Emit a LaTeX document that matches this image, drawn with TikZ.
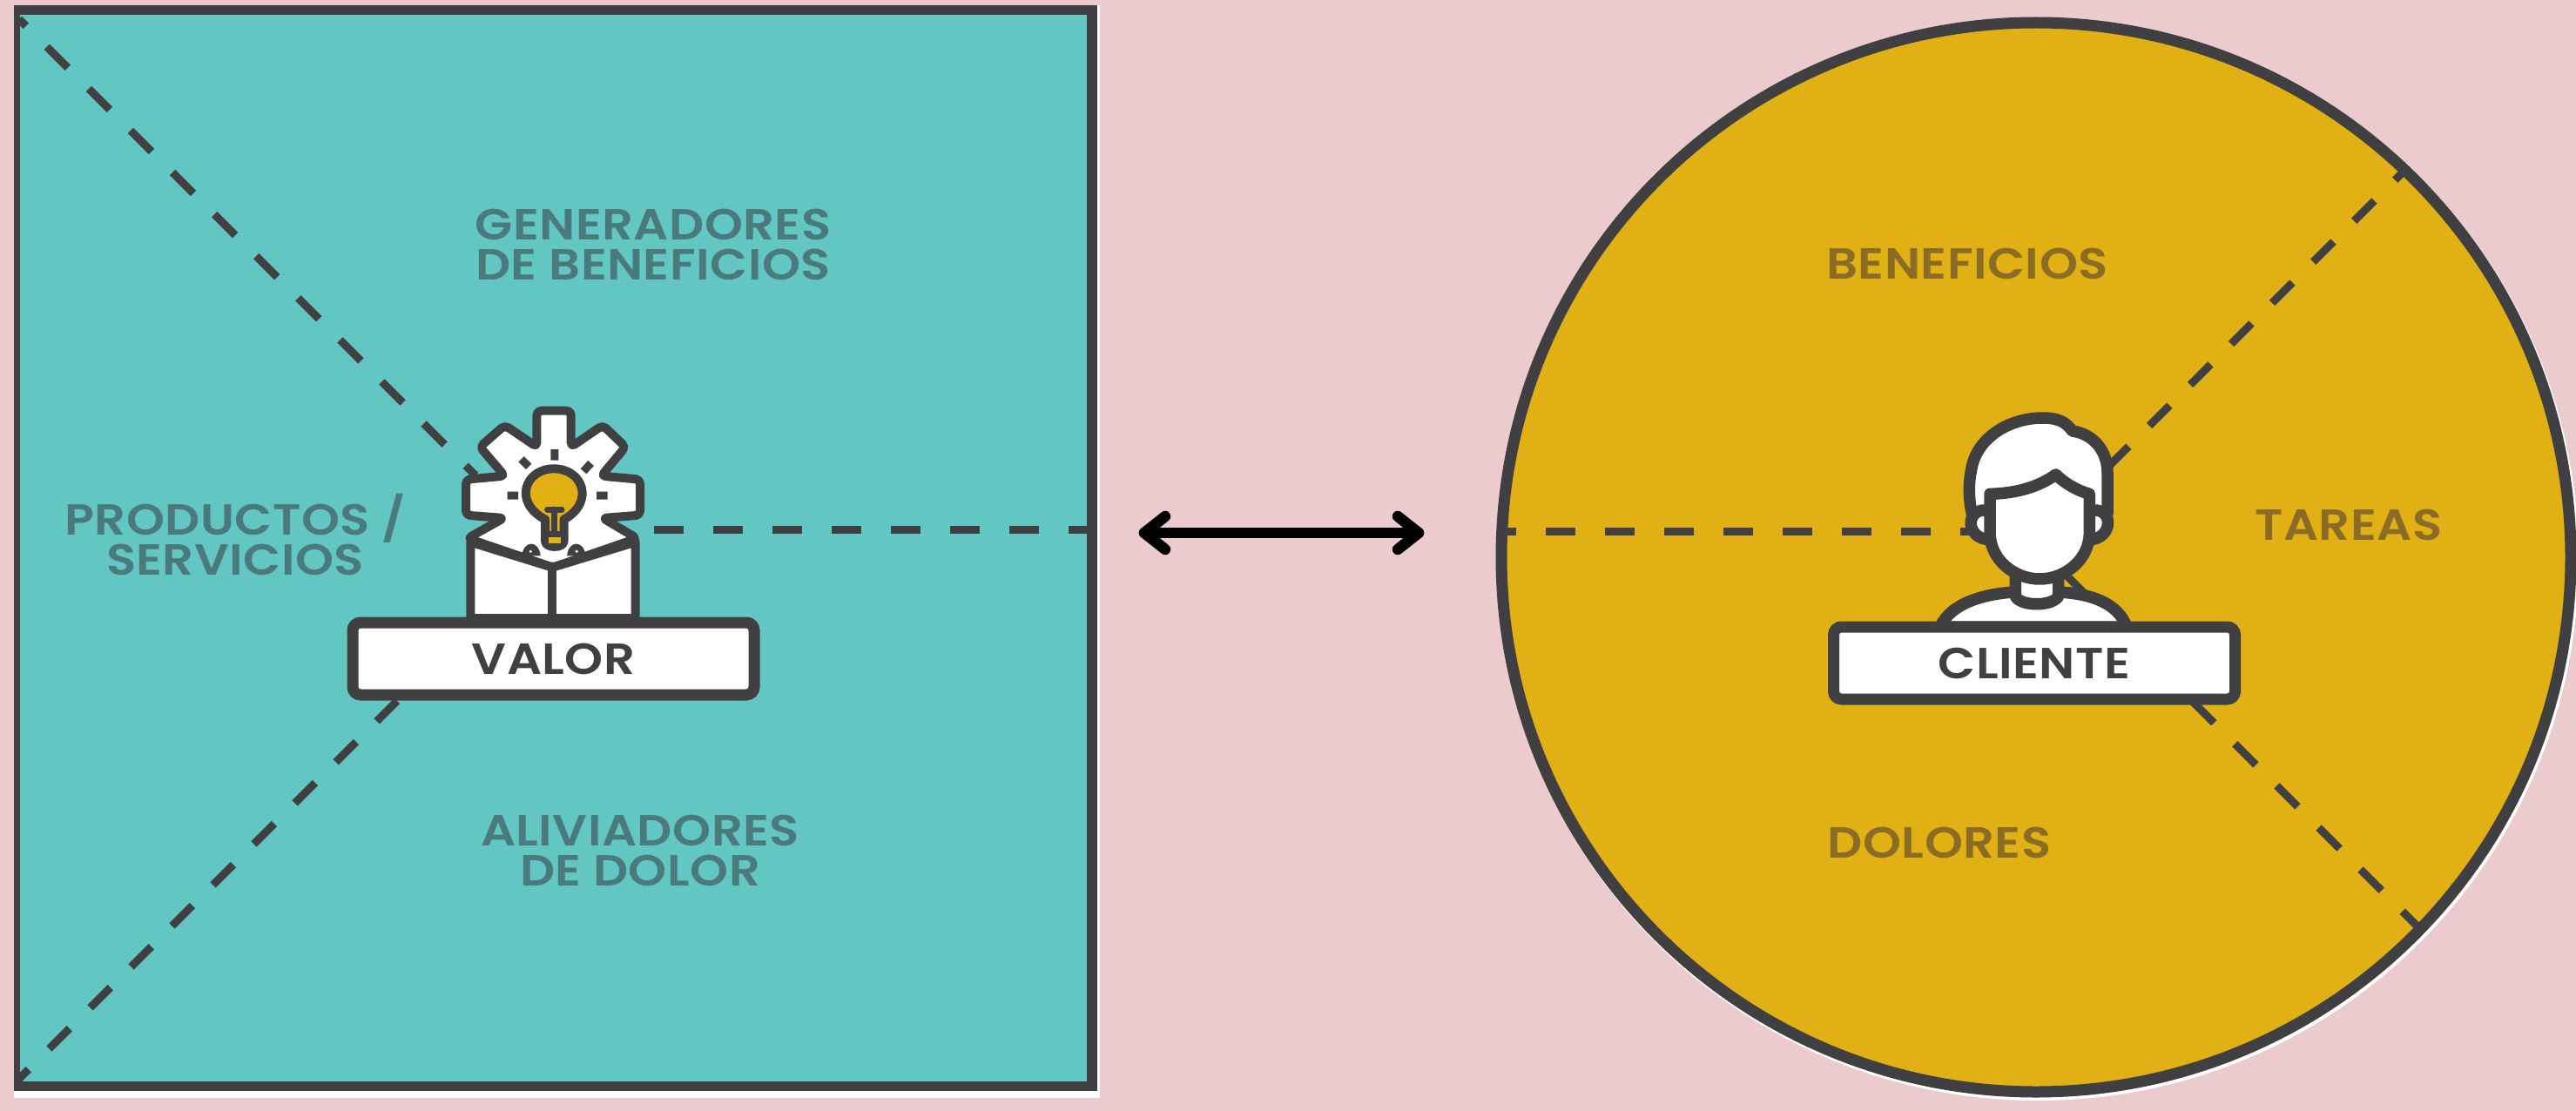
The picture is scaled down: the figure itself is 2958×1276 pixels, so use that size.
\documentclass[tikz,border=0pt]{standalone}
\usepackage{fontspec}
\newfontfamily\lab{Poppins SemiBold}[FakeStretch=1.12,LetterSpace=1]
\definecolor{bgc}{HTML}{ECCBCE}
\definecolor{teal}{HTML}{62C7C2}
\definecolor{gold}{HTML}{E0B014}
\definecolor{ink}{HTML}{404042}
\definecolor{tealtxt}{HTML}{4B7A7D}
\definecolor{goldtxt}{HTML}{8B6C24}
\tikzset{
  tealLabel/.style={text=tealtxt,font=\lab\fontsize{50}{46}\selectfont,align=center,inner sep=0pt,text depth=0pt},
  goldLabel/.style={text=goldtxt,font=\lab\fontsize{50}{46}\selectfont,inner sep=0pt},
  divider/.style={draw=ink,line width=9pt,dash pattern=on 34pt off 34pt},
  tightdivider/.style={draw=ink,line width=9pt,dash pattern=on 33pt off 33.5pt},
  namebox/.style={draw=ink,fill=white,line width=13pt,rounded corners=9pt,minimum width=461pt,minimum height=83pt,inner sep=0pt,text=ink,font=\lab\fontsize{50}{46}\selectfont},
  iconline/.style={draw=ink,line width=10pt,line join=round,line cap=round},
  headline/.style={draw=ink,line width=13.5pt,line join=round,line cap=round},
  bothways/.style={draw=black,line width=12.5pt,line cap=round,line join=round}
}
\begin{document}
\begin{tikzpicture}[x=1pt,y=-1pt]
\useasboundingbox (0,0) rectangle (2958,1276);
\fill[bgc] (0,0) rectangle (2958,1276);

% square panel
\fill[white] (16,6) rectangle (1263,1261);
\node[fill=ink,minimum width=1244pt,minimum height=1247pt,inner sep=0pt,outer sep=0pt,anchor=north west] (panelframe) at (16,6) {};
\node[fill=teal,minimum width=1225pt,minimum height=1225pt,inner sep=0pt,outer sep=0pt,anchor=north west] (panel) at (23,17) {};
% circle panel
\fill[white] (2340,643) circle (621);
\node[circle,draw=ink,fill=gold,line width=13pt,minimum size=1228pt,inner sep=0pt] (disc) at (2338,640) {};

% divider end points
\coordinate (tl) at (22,22);
\coordinate (tlc) at (546,546);
\coordinate (bl) at (20,1241);
\coordinate (blc) at (456,805);
\coordinate (rc) at (683,608);
\coordinate (re) at (1248,608);
\coordinate (le) at (1725,610);
\coordinate (lc) at (2285,610);
\coordinate (ur) at (2760,197);
\coordinate (urc) at (2421,536);
\coordinate (lr) at (2776,1064);
\coordinate (lrc) at (2374,662);
\draw[divider,dash phase=23pt] (tl) -- (tlc);
\draw[tightdivider] (blc) -- (bl);
\draw[divider] (rc) -- (re);
\draw[divider] (lc) -- (le);
\draw[tightdivider] (urc) -- (ur);
\draw[divider] (lrc) -- (lr);

% labels
\node[tealLabel] (gen) at (750,281) {GENERADORES\\DE BENEFICIOS};
\node[tealLabel] (prod) at (270,614) {PRODUCTOS /\\SERVICIOS};
\node[tealLabel] (ali) at (735,977) {ALIVIADORES\\DE DOLOR};
\node[goldLabel] (ben) at (2259,303) {BENEFICIOS};
\node[goldLabel] (tar) at (2697,603) {TAREAS};
\node[goldLabel] (dol) at (2227,968) {DOLORES};

% gear and book icon
\begin{scope}[shift={(360pt,-430pt)},x=0.35714pt,y=-0.33333pt]
\draw[iconline,fill=white,rounded corners=5pt]
  (718,125)--(828,125)--(828,250)--(930,175)--(1003,250)--(925,350)--(1050,362)--(1050,485)--(930,495)--(1040,565)--(770,665)--(495,565)--(612,495)--(490,485)--(490,362)--(615,350)--(535,250)--(615,175)--(718,250)--cycle;
\draw[iconline,fill=white] (505,578)--(768,665)--(1035,578)--(1035,840)--(505,840)--cycle;
\draw[iconline] (768,665)--(768,840);
\fill[ink] (670,625) .. controls (675,570) and (725,570) .. (730,625) -- cycle;
\fill[ink] (815,625) .. controls (820,570) and (870,570) .. (875,625) -- cycle;
\fill[white] (698,610) circle (5);
\fill[white] (846,610) circle (5);
% bulb
\draw[iconline,fill=gold] (745,500) .. controls (640,440) and (680,325) .. (773,325) .. controls (866,325) and (906,440) .. (805,500) -- (805,575) .. controls (805,600) and (745,600) .. (745,575) -- cycle;
\draw[iconline,line width=7pt] (752,465)--(798,465) (775,465)--(775,550);
\draw[iconline,line width=7pt] (745,550)--(805,550);
\fill[gold] (755,562) rectangle (795,582);
% rays
\draw[draw=ink,line width=9pt] (775,258)--(775,296) (668,292)--(692,318) (892,306)--(868,334) (623,417)--(658,417) (910,417)--(945,417);
\end{scope}

% person icon
\begin{scope}[shift={(2060pt,-430pt)},x=0.35714pt,y=-0.33333pt]
% shoulders
\draw[headline,fill=white] (470,870) .. controls (505,785) and (620,755) .. (710,750) -- (850,750) .. controls (950,755) and (1040,785) .. (1070,870) -- cycle;
% hair
\draw[headline,fill=white] (572,480) .. controls (560,420) and (562,370) .. (570,330) .. controls (585,220) and (690,150) .. (800,150) .. controls (850,150) and (875,165) .. (895,195) .. controls (960,205) and (1008,260) .. (1008,340) -- (1008,480) -- cycle;
% ears
\draw[headline,fill=white] (630,470) .. controls (550,450) and (545,570) .. (635,570);
\draw[headline,fill=white] (950,470) .. controls (1030,450) and (1030,570) .. (945,570);
% neck
\draw[headline,fill=white] (712,670) -- (712,765) .. controls (730,800) and (830,800) .. (850,765) -- (850,670);
% face
\draw[headline,fill=white] (630,412) .. controls (720,410) and (790,385) .. (842,345) .. controls (870,375) and (910,400) .. (950,412) -- (950,545) .. controls (950,640) and (870,705) .. (790,705) .. controls (710,705) and (630,640) .. (630,545) -- cycle;
\end{scope}

% name boxes
\node[namebox] (valor) at (635.5,756.5) {VALOR};
\node[namebox] (cliente) at (2336,761.5) {CLIENTE};

% double arrow
\coordinate (al) at (1314,612);
\coordinate (ar) at (1629,612);
\coordinate (alu) at (1338,593);
\coordinate (ald) at (1338,631);
\coordinate (aru) at (1605,593);
\coordinate (ard) at (1605,631);
\draw[bothways] (al) -- (ar);
\draw[bothways] (alu) -- (al) -- (ald);
\draw[bothways] (aru) -- (ar) -- (ard);
\end{tikzpicture}
\end{document}
